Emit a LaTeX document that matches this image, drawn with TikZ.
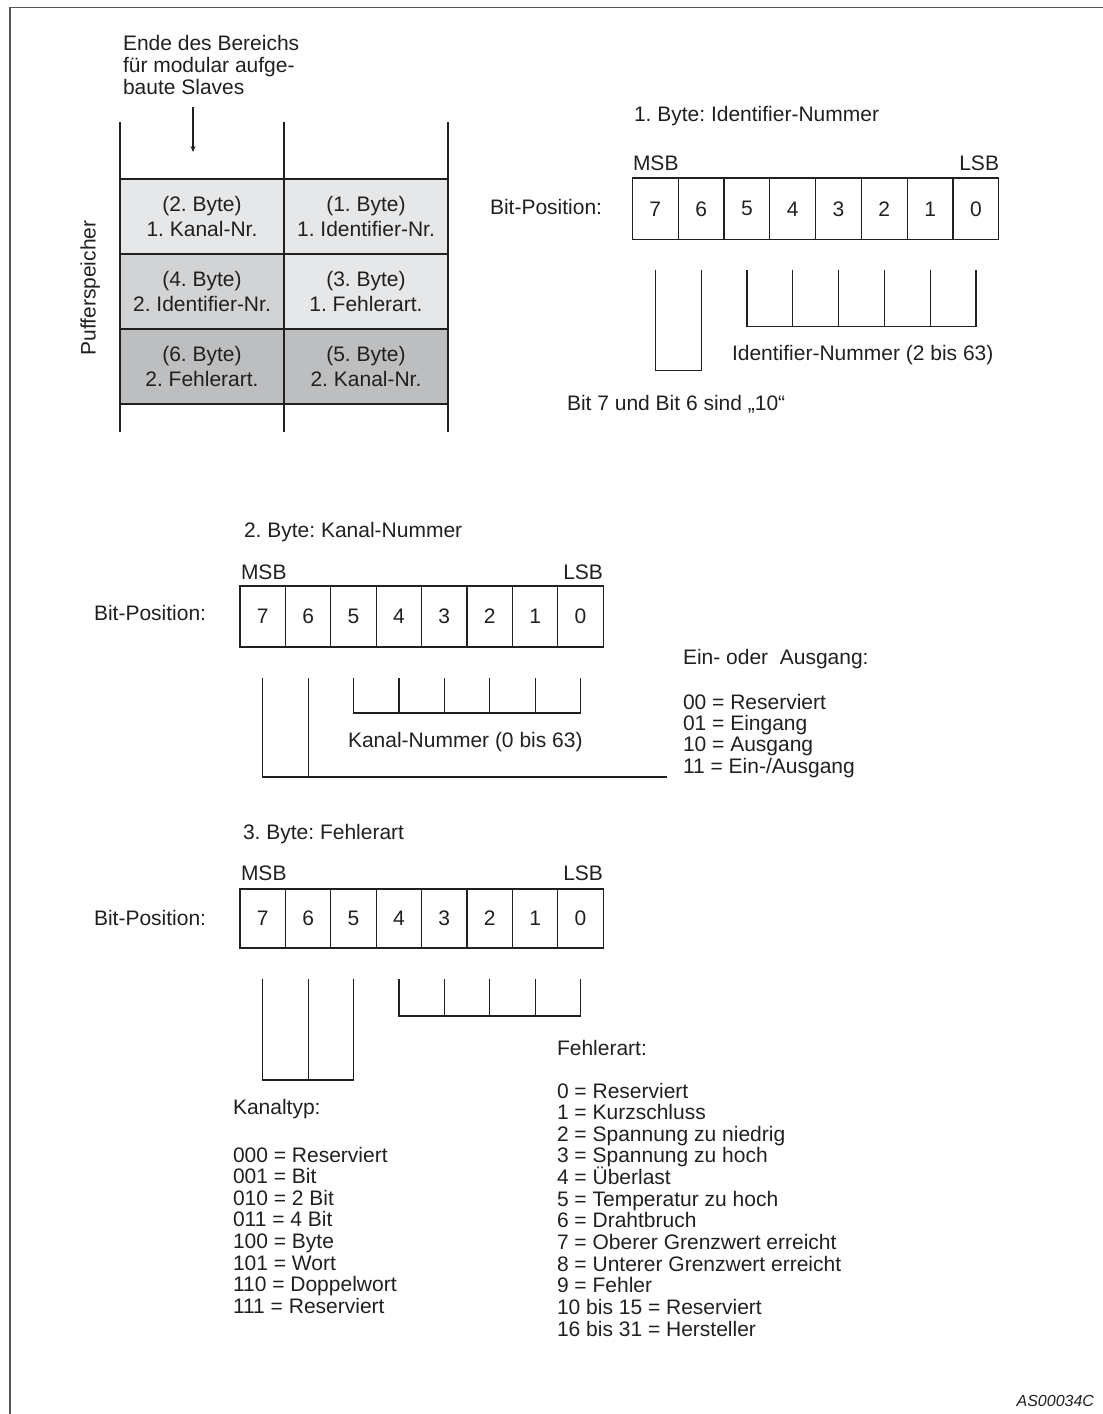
\documentclass[tikz,border=0pt]{standalone}
\usepackage{fontspec}
\setmainfont{Liberation Sans}
\usetikzlibrary{arrows.meta,calc}
\definecolor{ink}{HTML}{231F20}
\definecolor{gA}{HTML}{E6E7E8}
\definecolor{gB}{HTML}{D1D3D4}
\definecolor{gC}{HTML}{BCBEC0}
\definecolor{framec}{HTML}{555555}
\newcommand\fs{\fontsize{21}{21.65}\selectfont}
\frenchspacing
\begin{document}
\begin{tikzpicture}[x=1pt,y=-1pt,
  every node/.style={inner sep=0pt, outer sep=0pt, text=ink, font=\fs},
  ln/.style={draw=ink, line width=1.2pt},
  txt/.style={anchor=base west},
  ctxt/.style={anchor=base},
  cellbox/.style={ln, minimum width=164pt, minimum height=75pt, anchor=north west},
  bitbox/.style={ln, anchor=north west}]
\useasboundingbox (0,0) rectangle (1103,1414);
% frame
\draw[line width=1.6pt, draw=framec] (1103,7.5) -- (10,7.5) -- (10,1414);

% ---------- buffer table ----------
\node[txt] (e1) at (123,50) {Ende des Bereichs};
\node[txt] (e2) at (123,72) {für modular aufge-};
\node[txt] (e3) at (123,94) {baute Slaves};
\coordinate (arS) at (193,107);
\coordinate (arE) at (193,152);
\draw[draw=ink, line width=1.1pt, -{Stealth[length=6pt,width=5pt]}] (arS) -- (arE);

\node[cellbox, fill=gA] (t11) at (120,179) {};
\node[cellbox, fill=gA] (t12) at (284,179) {};
\node[cellbox, fill=gB] (t21) at (120,254) {};
\node[cellbox, fill=gA] (t22) at (284,254) {};
\node[cellbox, fill=gC] (t31) at (120,329) {};
\node[cellbox, fill=gC] (t32) at (284,329) {};
\draw[ln] (120,404) -- (448,404);
\draw[ln] (120,122) -- (120,432);
\draw[ln] (284,122) -- (284,432);
\draw[ln] (448,122) -- (448,432);

\node[ctxt] (l11a) at (202,211) {(2. Byte)};
\node[ctxt] (l11b) at (202,236) {1. Kanal-Nr.};
\node[ctxt] (l12a) at (366,211) {(1. Byte)};
\node[ctxt] (l12b) at (366,236) {1. Identifier-Nr.};
\node[ctxt] (l21a) at (202,286) {(4. Byte)};
\node[ctxt] (l21b) at (202,311) {2. Identifier-Nr.};
\node[ctxt] (l22a) at (366,286) {(3. Byte)};
\node[ctxt] (l22b) at (366,311) {1. Fehlerart.};
\node[ctxt] (l31a) at (202,361) {(6. Byte)};
\node[ctxt] (l31b) at (202,386) {2. Fehlerart.};
\node[ctxt] (l32a) at (366,361) {(5. Byte)};
\node[ctxt] (l32b) at (366,386) {2. Kanal-Nr.};
\node[rotate=90, anchor=base] (puf) at (95.5,288) {Pufferspeicher};

% ---------- byte 1 ----------
\node[txt] (h1) at (634,121) {1. Byte: Identifier-Nummer};
\node[txt] (msb1) at (633,170) {MSB};
\node[anchor=base east] (lsb1) at (999,170) {LSB};
\node[txt] (bp1) at (490,214) {Bit-Position:};
\foreach \d [count=\i from 0] in {7,...,0}
  \node[bitbox, minimum width=45.8pt, minimum height=61.7pt] (a\d) at (632.4+45.8*\i,178) {\d};
\draw[ln] ($(a7.south)+(0,30)$) -- ($(a7.south)+(0,131)$) -- ($(a6.south)+(0,131)$) -- ($(a6.south)+(0,30)$);
\draw[ln] ($(a5.south)+(0,30)$) -- ($(a5.south)+(0,87)$) -- ($(a0.south)+(0,87)$) -- ($(a0.south)+(0,30)$);
\foreach \d in {4,3,2,1}
  \draw[ln] ($(a\d.south)+(0,30)$) -- ++(0,57);
\node[txt] (idn) at (732,360) {Identifier-Nummer (2 bis 63)};
\node[txt] (b76) at (567,410) {Bit 7 und Bit 6 sind „10“};

% ---------- byte 2 ----------
\node[txt] (h2) at (244,537) {2. Byte: Kanal-Nummer};
\node[txt] (msb2) at (241,579) {MSB};
\node[anchor=base east] (lsb2) at (603,579) {LSB};
\node[txt] (bp2) at (94,620) {Bit-Position:};
\foreach \d [count=\i from 0] in {7,...,0}
  \node[bitbox, minimum width=45.4pt, minimum height=61pt] (b\d) at (240+45.4*\i,586) {\d};
\coordinate (kend) at (667,777);
\draw[ln] ($(b7.south)+(0,31)$) -- ($(b7.south)+(0,130)$) -- (kend);
\draw[ln] ($(b6.south)+(0,31)$) -- ($(b6.south)+(0,130)$);
\draw[ln] ($(b5.south)+(0,31)$) -- ($(b5.south)+(0,66)$) -- ($(b0.south)+(0,66)$) -- ($(b0.south)+(0,31)$);
\foreach \d in {4,3,2,1}
  \draw[ln] ($(b\d.south)+(0,31)$) -- ++(0,35);
\node[txt] (kn) at (348,747) {Kanal-Nummer (0 bis 63)};
\node[txt] (eo) at (683,664) {Ein- oder\ \ Ausgang:};
\foreach \t [count=\k from 0] in {00 = Reserviert, 01 = Eingang, 10 = Ausgang, 11 = Ein-/Ausgang}
  \node[txt] (eo\k) at (683,709+21.4*\k) {\t};

% ---------- byte 3 ----------
\node[txt] (h3) at (243,839) {3. Byte: Fehlerart};
\node[txt] (msb3) at (241,880) {MSB};
\node[anchor=base east] (lsb3) at (603,880) {LSB};
\node[txt] (bp3) at (94,925) {Bit-Position:};
\foreach \d [count=\i from 0] in {7,...,0}
  \node[bitbox, minimum width=45.4pt, minimum height=59pt] (c\d) at (240+45.4*\i,889) {\d};
\draw[ln] ($(c7.south)+(0,31)$) -- ($(c7.south)+(0,132)$) -- ($(c5.south)+(0,132)$) -- ($(c5.south)+(0,31)$);
\draw[ln] ($(c6.south)+(0,31)$) -- ($(c6.south)+(0,132)$);
\draw[ln] ($(c4.south)+(0,31)$) -- ($(c4.south)+(0,68)$) -- ($(c0.south)+(0,68)$) -- ($(c0.south)+(0,31)$);
\foreach \d in {3,2,1}
  \draw[ln] ($(c\d.south)+(0,31)$) -- ++(0,37);

\node[txt] (fa) at (557,1055) {Fehlerart:};
\foreach \t [count=\k from 0] in {0 = Reserviert, 1 = Kurzschluss, 2 = Spannung zu niedrig, 3 = Spannung zu hoch, 4 = Überlast, 5 = Temperatur zu hoch, 6 = Drahtbruch, 7 = Oberer Grenzwert erreicht, 8 = Unterer Grenzwert erreicht, 9 = Fehler, 10 bis 15 = Reserviert, 16 bis 31 = Hersteller}
  \node[txt] (f\k) at (557,1098+21.65*\k) {\t};

\node[txt] (kt) at (233,1114) {Kanaltyp:};
\foreach \t [count=\k from 0] in {000 = Reserviert, 001 = Bit, 010 = 2 Bit, 011 = 4 Bit, 100 = Byte, 101 = Wort, 110 = Doppelwort, 111 = Reserviert}
  \node[txt] (k\k) at (233,1162+21.65*\k) {\t};

\node[anchor=base east, font=\fontsize{16}{18}\selectfont\itshape] (code) at (1094,1406) {AS00034C};
\end{tikzpicture}
\end{document}
